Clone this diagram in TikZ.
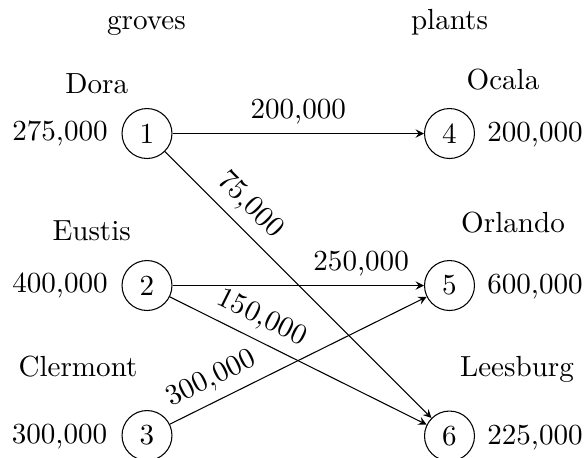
\documentclass[tikz,border=0pt]{standalone}
\begin{document}
\begin{tikzpicture}[x=0.3763pt,y=-0.3763pt,
  every node/.style={font=\fontsize{10.95}{13.6}\selectfont},
  site/.style={circle,draw,minimum size=18.8pt,inner sep=0pt},
  txt/.style={anchor=base,inner sep=0pt},
  flow/.style={-stealth},
  amt/.style={above,sloped,inner sep=3.3pt}]
\useasboundingbox (0,0) rectangle (587,457);

% column headings
\node[txt] (hg) at (146.5,29) {groves};
\node[txt] (hp) at (449.5,29) {plants};

% groves
\node[site] (n1) at (147,133.5) {1};
\node[site] (n2) at (147,285.5) {2};
\node[site] (n3) at (147,435.5) {3};
% plants
\node[site] (n4) at (449.5,133.5) {4};
\node[site] (n5) at (449.5,285.5) {5};
\node[site] (n6) at (449.5,436) {6};

% grove names and supplies
\node[txt] (dora) at (96.7,93) {Dora};
\node[txt] (eustis) at (91.7,240) {Eustis};
\node[txt] (clermont) at (78,376.7) {Clermont};
\node[txt] (s1) at (60,140) {275,000};
\node[txt] (s2) at (60,292) {400,000};
\node[txt] (s3) at (59.5,443.3) {300,000};

% plant names and demands
\node[txt] (ocala) at (503,89) {Ocala};
\node[txt] (orlando) at (513,232) {Orlando};
\node[txt] (leesburg) at (517,376) {Leesburg};
\node[txt] (d4) at (535,141) {200,000};
\node[txt] (d5) at (535,293) {600,000};
\node[txt] (d6) at (535,444) {225,000};

% shipments
\draw[flow] (n1) -- node[amt,pos=0.5] {200,000} (n4);
\draw[flow] (n1) -- node[amt,pos=0.26] {75,000} (n6);
\draw[flow] (n2) -- node[amt,pos=0.75] {250,000} (n5);
\draw[flow] (n2) -- node[amt,pos=0.32] {150,000} (n6);
\draw[flow] (n3) -- node[amt,pos=0.2] {300,000} (n5);
\end{tikzpicture}
\end{document}
